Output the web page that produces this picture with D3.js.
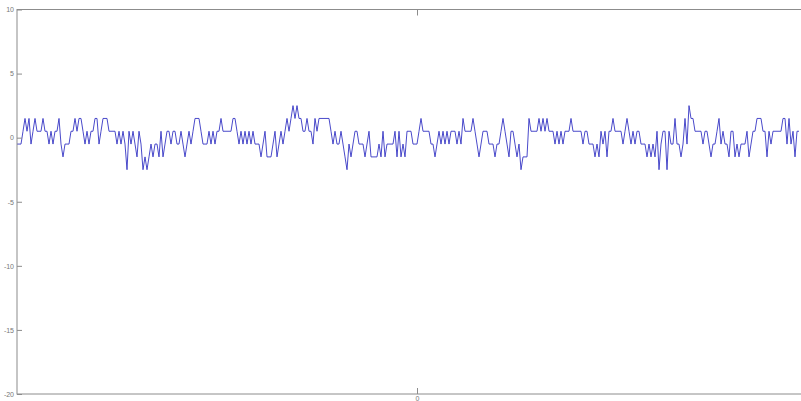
<!DOCTYPE html>
<html>
<head>
<meta charset="utf-8">
<script src="https://cdn.jsdelivr.net/npm/d3@7"></script>
<style>
  body { margin: 0; background: #fff; }
  svg { display: block; }
  .tick text { font-family: "Liberation Sans", Arial, sans-serif; font-size: 7px; fill: #777; }
</style>
</head>
<body>
<script>
// signal samples, one every time step
var values = [
  -0.5, -0.5, -0.5, 0.5, 1.5, 0.5, 1.5, -0.5, 0.5, 1.5,
  0.5, 0.5, 0.5, 1.5, 0.5, 0.5, -0.5, 0.5, -0.5, 0.5,
  0.5, 1.5, -0.5, -1.5, -0.5, -0.5, -0.5, 0.5, 0.5, 1.5,
  0.5, 1.5, 1.5, 0.5, -0.5, 0.5, -0.5, 0.5, 0.5, 1.5,
  1.5, -0.5, 0.5, 1.5, 1.5, 1.5, 0.5, 0.5, 0.5, 0.5,
  -0.5, 0.5, -0.5, 0.5, -0.5, -2.5, 0.5, -0.5, 0.5, -0.5,
  -1.5, 0.5, -0.5, -2.5, -1.5, -2.5, -1.5, -0.5, -1.5, -0.5,
  -0.5, -1.5, 0.5, -1.5, -0.5, 0.5, 0.5, -0.5, 0.5, 0.5,
  -0.5, -0.5, 0.5, -0.5, -1.5, -0.5, 0.5, -0.5, 0.5, 1.5,
  1.5, 1.5, 0.5, -0.5, -0.5, -0.5, 0.5, -0.5, 0.5, -0.5,
  0.5, 0.5, 1.5, 0.5, 0.5, 0.5, 0.5, 0.5, 1.5, 1.5,
  0.5, -0.5, 0.5, -0.5, 0.5, -0.5, 0.5, -0.5, 0.5, -0.5,
  -0.5, -0.5, -1.5, -0.5, 0.5, -1.5, -1.5, -1.5, -0.5, 0.5,
  -1.5, -0.5, 0.5, -0.5, 0.5, 1.5, 0.5, 1.5, 2.5, 1.5,
  2.5, 1.5, 1.5, 0.5, 0.5, 1.5, 0.5, 0.5, -0.5, 1.5,
  0.5, 1.5, 1.5, 1.5, 1.5, 1.5, 1.5, 0.5, -0.5, 0.5,
  -0.5, -0.5, 0.5, -0.5, -1.5, -2.5, -0.5, -1.5, -0.5, 0.5,
  0.5, -0.5, -0.5, -0.5, -1.5, -0.5, 0.5, -1.5, -1.5, -1.5,
  -1.5, -0.5, -1.5, 0.5, -1.5, -0.5, -0.5, -0.5, -0.5, 0.5,
  -1.5, 0.5, -1.5, -0.5, -1.5, 0.5, 0.5, 0.5, -0.5, -0.5,
  -0.5, 0.5, 1.5, 0.5, 0.5, 0.5, 0.5, -0.5, -0.5, -1.5,
  -0.5, 0.5, -0.5, 0.5, -0.5, 0.5, -0.5, 0.5, 0.5, 0.5,
  -0.5, 0.5, -0.5, 1.5, 0.5, 0.5, 0.5, 0.5, 1.5, 0.5,
  -0.5, -1.5, -0.5, 0.5, 0.5, 0.5, -0.5, -0.5, -0.5, -1.5,
  -0.5, -0.5, 0.5, 1.5, 0.5, -0.5, -1.5, 0.5, 0.5, -0.5,
  -1.5, -0.5, -2.5, -1.5, -1.5, -1.5, 1.5, 0.5, 0.5, 0.5,
  0.5, 1.5, 0.5, 1.5, 0.5, 1.5, 0.5, 0.5, 0.5, -0.5,
  0.5, -0.5, 0.5, -0.5, 0.5, 0.5, 0.5, 1.5, 0.5, 0.5,
  0.5, 0.5, 0.5, -0.5, 0.5, 0.5, -0.5, -0.5, -0.5, -1.5,
  -0.5, -1.5, 0.5, -0.5, 0.5, -1.5, 0.5, 0.5, 1.5, 0.5,
  0.5, 0.5, 0.5, -0.5, 0.5, 1.5, 0.5, -0.5, 0.5, -0.5,
  0.5, 0.5, -0.5, -0.5, -0.5, -1.5, -0.5, -1.5, -0.5, -1.5,
  0.5, -2.5, -0.5, 0.5, 0.5, -2.5, 0.5, -0.5, -0.5, 1.5,
  -0.5, -0.5, -1.5, -0.5, 1.5, -0.5, 2.5, 1.5, 1.5, 0.5,
  0.5, 0.5, 0.5, -0.5, 0.5, 0.5, -0.5, -1.5, -0.5, -0.5,
  0.5, 1.5, -0.5, 0.5, -0.5, -0.5, -1.5, 0.5, 0.5, -1.5,
  -0.5, -1.5, -0.5, -0.5, -0.5, 0.5, -1.5, -0.5, 0.5, 0.5,
  1.5, 1.5, 1.5, 0.5, 0.5, -1.5, 0.5, -0.5, 0.5, 0.5,
  0.5, 0.5, 0.5, 1.5, 1.5, -0.5, 1.5, -0.5, 0.5, -1.5,
  0.5, 0.5
];
var tStart = -200;          // time of first sample
var xDomain = [-200, 199];
var yDomain = [-20, 10];
var yTicks = [-20, -15, -10, -5, 0, 5, 10];
var xTicks = [0];

var axisColor = "#8c8c8c";
var lineColor = "#3636c4";

// plot box (right side runs past the window edge)
var margin = { top: 9.5, left: 17 },
    width = 798,
    height = 384.5;

var x = d3.scaleLinear().domain(xDomain).range([0, width]);
var y = d3.scaleLinear().domain(yDomain).range([height, 0]);

var svg = d3.select("body").append("svg")
    .attr("width", 801)
    .attr("height", 401)
    .append("g")
    .attr("transform", "translate(" + margin.left + "," + margin.top + ")");

var points = values.map(function (v, i) { return { t: tStart + i, v: v }; });

var valueline = d3.line()
    .x(function (d) { return x(d.t); })
    .y(function (d) { return y(d.v); });

// the signal
svg.append("path")
    .datum(points)
    .attr("fill", "none")
    .attr("stroke", lineColor)
    .attr("stroke-width", 0.9)
    .attr("d", valueline);

// left axis, ticks pointing inward
var yAxis = svg.append("g")
    .call(d3.axisLeft(y).tickValues(yTicks).tickSizeInner(-5).tickSizeOuter(0).tickPadding(3)
        .tickFormat(function (d) { return String(d); }));

// bottom axis
var xAxis = svg.append("g")
    .attr("transform", "translate(0," + height + ")")
    .call(d3.axisBottom(x).tickValues(xTicks).tickSizeInner(-6).tickSizeOuter(0).tickPadding(3)
        .tickFormat(function (d) { return String(d); }));

// top axis, ticks only
var topAxis = svg.append("g")
    .call(d3.axisTop(x).tickValues(xTicks).tickSizeInner(-6).tickSizeOuter(0)
        .tickFormat(function () { return ""; }));

[yAxis, xAxis, topAxis].forEach(function (g) {
    g.select(".domain").remove();
    g.selectAll(".tick line").attr("stroke", axisColor);
});
xAxis.selectAll(".tick text").attr("dy", "0.5em");

// box round the plot
svg.append("rect")
    .attr("x", 0)
    .attr("y", 0)
    .attr("width", width)
    .attr("height", height)
    .attr("fill", "none")
    .attr("stroke", axisColor)
    .attr("stroke-width", 1);
</script>
</body>
</html>
